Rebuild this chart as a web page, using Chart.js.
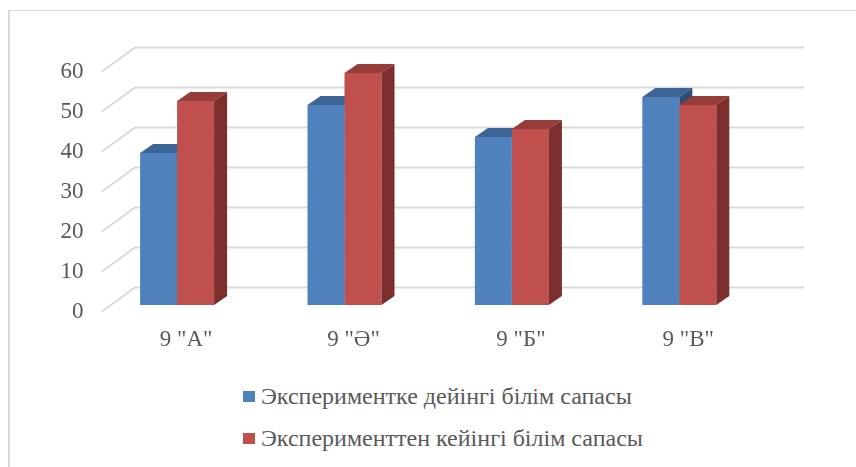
<!DOCTYPE html>
<html lang="kk">
<head>
<meta charset="UTF-8">
<title>Білім сапасы</title>
<script src="https://cdn.jsdelivr.net/npm/chart.js@4"></script>
<style>
  * { margin: 0; padding: 0; box-sizing: border-box; }
  body { width: 856px; height: 467px; background: #fff; overflow: hidden; position: relative; font-family: 'Liberation Serif', Tinos, 'Times New Roman', 'DejaVu Serif', serif; }
  #frame { position: absolute; left: 8px; top: 10px; width: 900px; height: 500px; border-top: 1px solid #d9d9d9; border-left: 2px solid #d9d9d9; }
  #wrap { position: absolute; left: 0; top: 0; width: 856px; height: 370px; }
  #legend { position: absolute; left: 243px; top: 375px; }
  .row { display: flex; align-items: center; height: 42px; font-size: 24px; color: #595959; }
  .box { width: 12px; height: 11px; margin-right: 6px; }
</style>
</head>
<body>
<div id="frame"></div>
<div id="wrap"><canvas id="chart"></canvas></div>
<div id="legend"></div>

<script>
const categories = ['9 "А"', '9 "Ә"', '9 "Б"', '9 "В"'];
const seriesNames = ['Экспериментке дейінгі білім сапасы', 'Эксперименттен кейінгі білім сапасы'];
const beforeValues = [38, 50, 42, 52];
const afterValues = [51, 58, 44, 50];
const yTicks = [0, 10, 20, 30, 40, 50, 60];

const frontColors = ['#4f81bd', '#c0504d'];
const topColors = ['#3c6494', '#963c3a'];
const sideColors = ['#2e4d73', '#7b2e2c'];
const textColor = '#595959';
const font = { family: "'Liberation Serif', Tinos, 'Times New Roman', 'DejaVu Serif', serif", size: 23 };

// depth of the bars and of the back wall
const DX = 13, DY = 9;

function drawDepth(ctx, bar, i) {
  const { x, y, base, width } = bar.getProps(['x', 'y', 'base', 'width'], true);
  const l = x - width / 2, r = x + width / 2;
  ctx.fillStyle = topColors[i];
  ctx.beginPath();
  ctx.moveTo(l, y); ctx.lineTo(l + DX, y - DY); ctx.lineTo(r + DX, y - DY); ctx.lineTo(r, y);
  ctx.closePath(); ctx.fill();
  ctx.fillStyle = sideColors[i];
  ctx.beginPath();
  ctx.moveTo(r, y); ctx.lineTo(r + DX, y - DY); ctx.lineTo(r + DX, base - DY); ctx.lineTo(r, base);
  ctx.closePath(); ctx.fill();
}

const fake3d = {
  id: 'fake3d',
  beforeDatasetsDraw(chart) {
    const ctx = chart.ctx, area = chart.chartArea, ys = chart.scales.y;
    ctx.save();
    ctx.strokeStyle = '#d9d9d9';
    ctx.lineWidth = 1.8;
    yTicks.forEach(v => {
      const py = ys.getPixelForValue(v) - 17.5;
      ctx.beginPath();
      ctx.moveTo(area.left + 8.6, py + 24);
      ctx.lineTo(area.left + 41.6, py);
      ctx.lineTo(area.right + 41, py);
      ctx.stroke();
    });
    chart.getDatasetMeta(0).data.forEach(bar => drawDepth(ctx, bar, 0));
    ctx.restore();
  },
  afterDatasetsDraw(chart) {
    const ctx = chart.ctx;
    ctx.save();
    chart.getDatasetMeta(1).data.forEach(bar => drawDepth(ctx, bar, 1));
    ctx.restore();
  }
};

const chart = new Chart(document.getElementById('chart'), {
  type: 'bar',
  data: {
    labels: categories,
    datasets: [
      { label: seriesNames[0], data: beforeValues, backgroundColor: frontColors[0] },
      { label: seriesNames[1], data: afterValues, backgroundColor: frontColors[1] }
    ]
  },
  options: {
    responsive: true,
    maintainAspectRatio: false,
    animation: false,
    categoryPercentage: 0.442,
    barPercentage: 1,
    layout: { padding: { top: 65, right: 93, bottom: 20, left: 0 } },
    plugins: { legend: { display: false }, tooltip: { enabled: false } },
    scales: {
      x: {
        grid: { display: false, drawTicks: false },
        border: { display: false },
        ticks: { font, color: textColor, padding: 21, labelOffset: 9 },
        afterFit: s => { s.height = 45; }
      },
      y: {
        min: 0, max: 60,
        grid: { display: false, drawTicks: false },
        border: { display: false },
        ticks: { stepSize: 10, font, color: textColor, padding: 10, labelOffset: 7 },
        afterFit: s => { s.width = 93.4; }
      }
    }
  },
  plugins: [fake3d]
});

// legend as plain HTML rows
const legend = document.getElementById('legend');
chart.data.datasets.forEach(ds => {
  const row = document.createElement('div');
  row.className = 'row';
  row.innerHTML = `<span class="box" style="background:${ds.backgroundColor}"></span><span>${ds.label}</span>`;
  legend.appendChild(row);
});
</script>
</body>
</html>
